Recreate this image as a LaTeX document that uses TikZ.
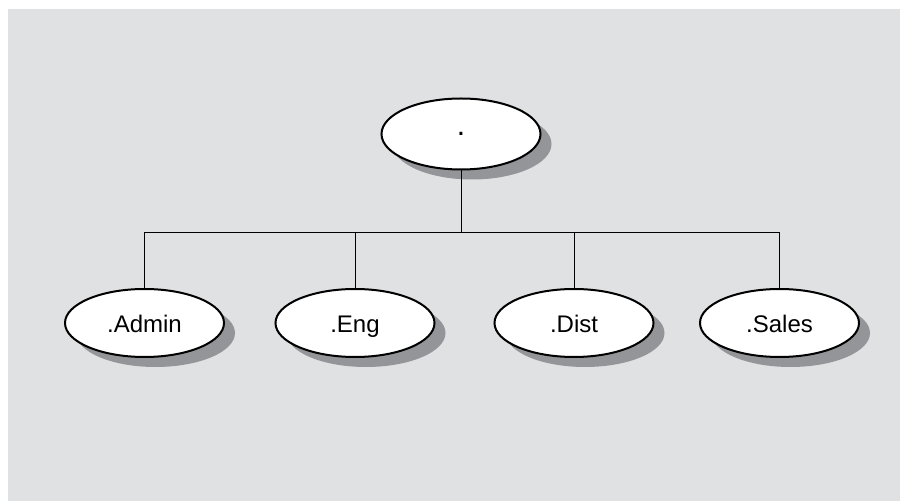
\documentclass[tikz,border=0pt]{standalone}
\usepackage{fontspec}
\setmainfont{Liberation Sans}
\usetikzlibrary{shapes.geometric, shadows, positioning}
\definecolor{bggray}{HTML}{E0E1E3}
\definecolor{shadowgray}{HTML}{939598}

\begin{document}
\begin{tikzpicture}[x=1pt, y=1pt, every node/.style={font=\fontsize{24}{28}\selectfont},
    zonebox/.style={ellipse, draw, line width=2pt, fill=white, minimum width=159pt, minimum height=68pt, inner sep=0pt,
        text height=24pt, text depth=4pt,
        drop shadow={shadow xshift=11pt, shadow yshift=-10pt, fill=shadowgray, opacity=1}},
    link/.style={line width=0.9pt}]
    \fill[bggray] (8,0) rectangle (900,492);
    \useasboundingbox (0,0) rectangle (900,501);
    \node[zonebox, minimum height=71pt, text height=, text depth=, font=\fontsize{30}{30}\selectfont] (root) at (461,367) {.};
    \foreach \x/\n/\t in {144.5/admin/.Admin, 355/eng/.Eng, 574/dist/.Dist, 779.5/sales/.Sales} {
        \node[zonebox] (\n) at (\x,178) {\t};
    }
    \coordinate (bar) at (461,269);
    \draw[link] (root.south) -- (bar);
    \draw[link] (admin.north |- bar) -- (sales.north |- bar);
    \foreach \n in {admin, eng, dist, sales} {
        \draw[link] (\n.north |- bar) -- (\n.north);
    }
\end{tikzpicture}
\end{document}
